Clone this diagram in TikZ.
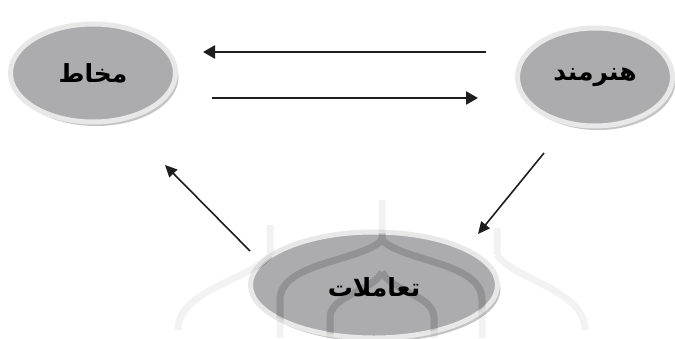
\documentclass[tikz,border=0pt]{standalone}
\usepackage{fontspec}
\newfontfamily\arabicfont[Script=Arabic]{DejaVu Sans}
\TeXXeTstate=1
\usetikzlibrary{shapes.geometric,arrows.meta,shadows}
\definecolor{ellfill}{RGB}{172,172,174}
\definecolor{ellrim}{RGB}{232,232,232}
\definecolor{ellshadow}{RGB}{196,196,196}
\definecolor{arrowcol}{RGB}{30,30,30}
\tikzset{
  labelfont/.style={font=\arabicfont\bfseries\fontsize{25}{30}\selectfont},
  bubble/.style={ellipse, fill=ellfill, draw=ellrim, line width=5pt,
    inner sep=0pt, labelfont,
    drop shadow={shadow xshift=3pt, shadow yshift=-4pt, fill=ellshadow, opacity=1}},
  harrow/.style={draw=arrowcol, line width=2.6pt, -{Triangle[length=12pt,width=13pt]}},
  darrow/.style={draw=arrowcol, line width=1.6pt, -{Triangle[length=12pt,width=11pt]}},
  wmark/.style={draw=black, line width=7pt, opacity=0.05, line cap=butt}
}
\begin{document}
\begin{tikzpicture}[x=1pt,y=-1pt]
\useasboundingbox (0,0) rectangle (675,338);
\node[bubble, minimum width=165pt, minimum height=98pt] (mokh) at (93,73) {\beginR مخاط\endR};
\node[bubble, minimum width=155pt, minimum height=98pt] (honar) at (595,77) {\beginR هنرمند\endR};
\node[bubble, minimum width=247pt, minimum height=106pt] (taam) at (374,285) {\phantom{x}};
% faint watermark (pointed arches)
\def\wpaths{
  (382,200) -- (382,240)
  (280,338) -- (280,300) .. controls (280,262) and (360,262) .. (382,240)
  (382,240) .. controls (404,262) and (482,262) .. (482,300) -- (482,338)
  (330,338) -- (330,318) .. controls (330,295) and (372,292) .. (382,272)
  (382,272) .. controls (392,292) and (434,295) .. (434,318) -- (434,338)
  (270,225) -- (270,255)
  (178,330) .. controls (178,290) and (250,280) .. (270,255)
  (497,228) -- (497,255)
  (497,255) .. controls (515,280) and (585,290) .. (585,330)
}
\draw[wmark] \wpaths;
\begin{scope}
\clip (taam.center) ellipse (122pt and 52pt);
\draw[wmark, opacity=0.1] \wpaths;
\end{scope}
\node[labelfont] (taamtext) at ([yshift=-2pt]taam.center) {\beginR تعاملات\endR};
\coordinate (t1s) at (486,52);
\coordinate (t1e) at (203,52);
\coordinate (t2s) at (212,98);
\coordinate (t2e) at (478,98);
\coordinate (d1s) at (544,153);
\coordinate (d1e) at (478,234);
\coordinate (d2s) at (250,251);
\coordinate (d2e) at (165,165);
\draw[harrow] (t1s) -- (t1e);
\draw[harrow] (t2s) -- (t2e);
\draw[darrow] (d1s) -- (d1e);
\draw[darrow] (d2s) -- (d2e);
\end{tikzpicture}
\end{document}
